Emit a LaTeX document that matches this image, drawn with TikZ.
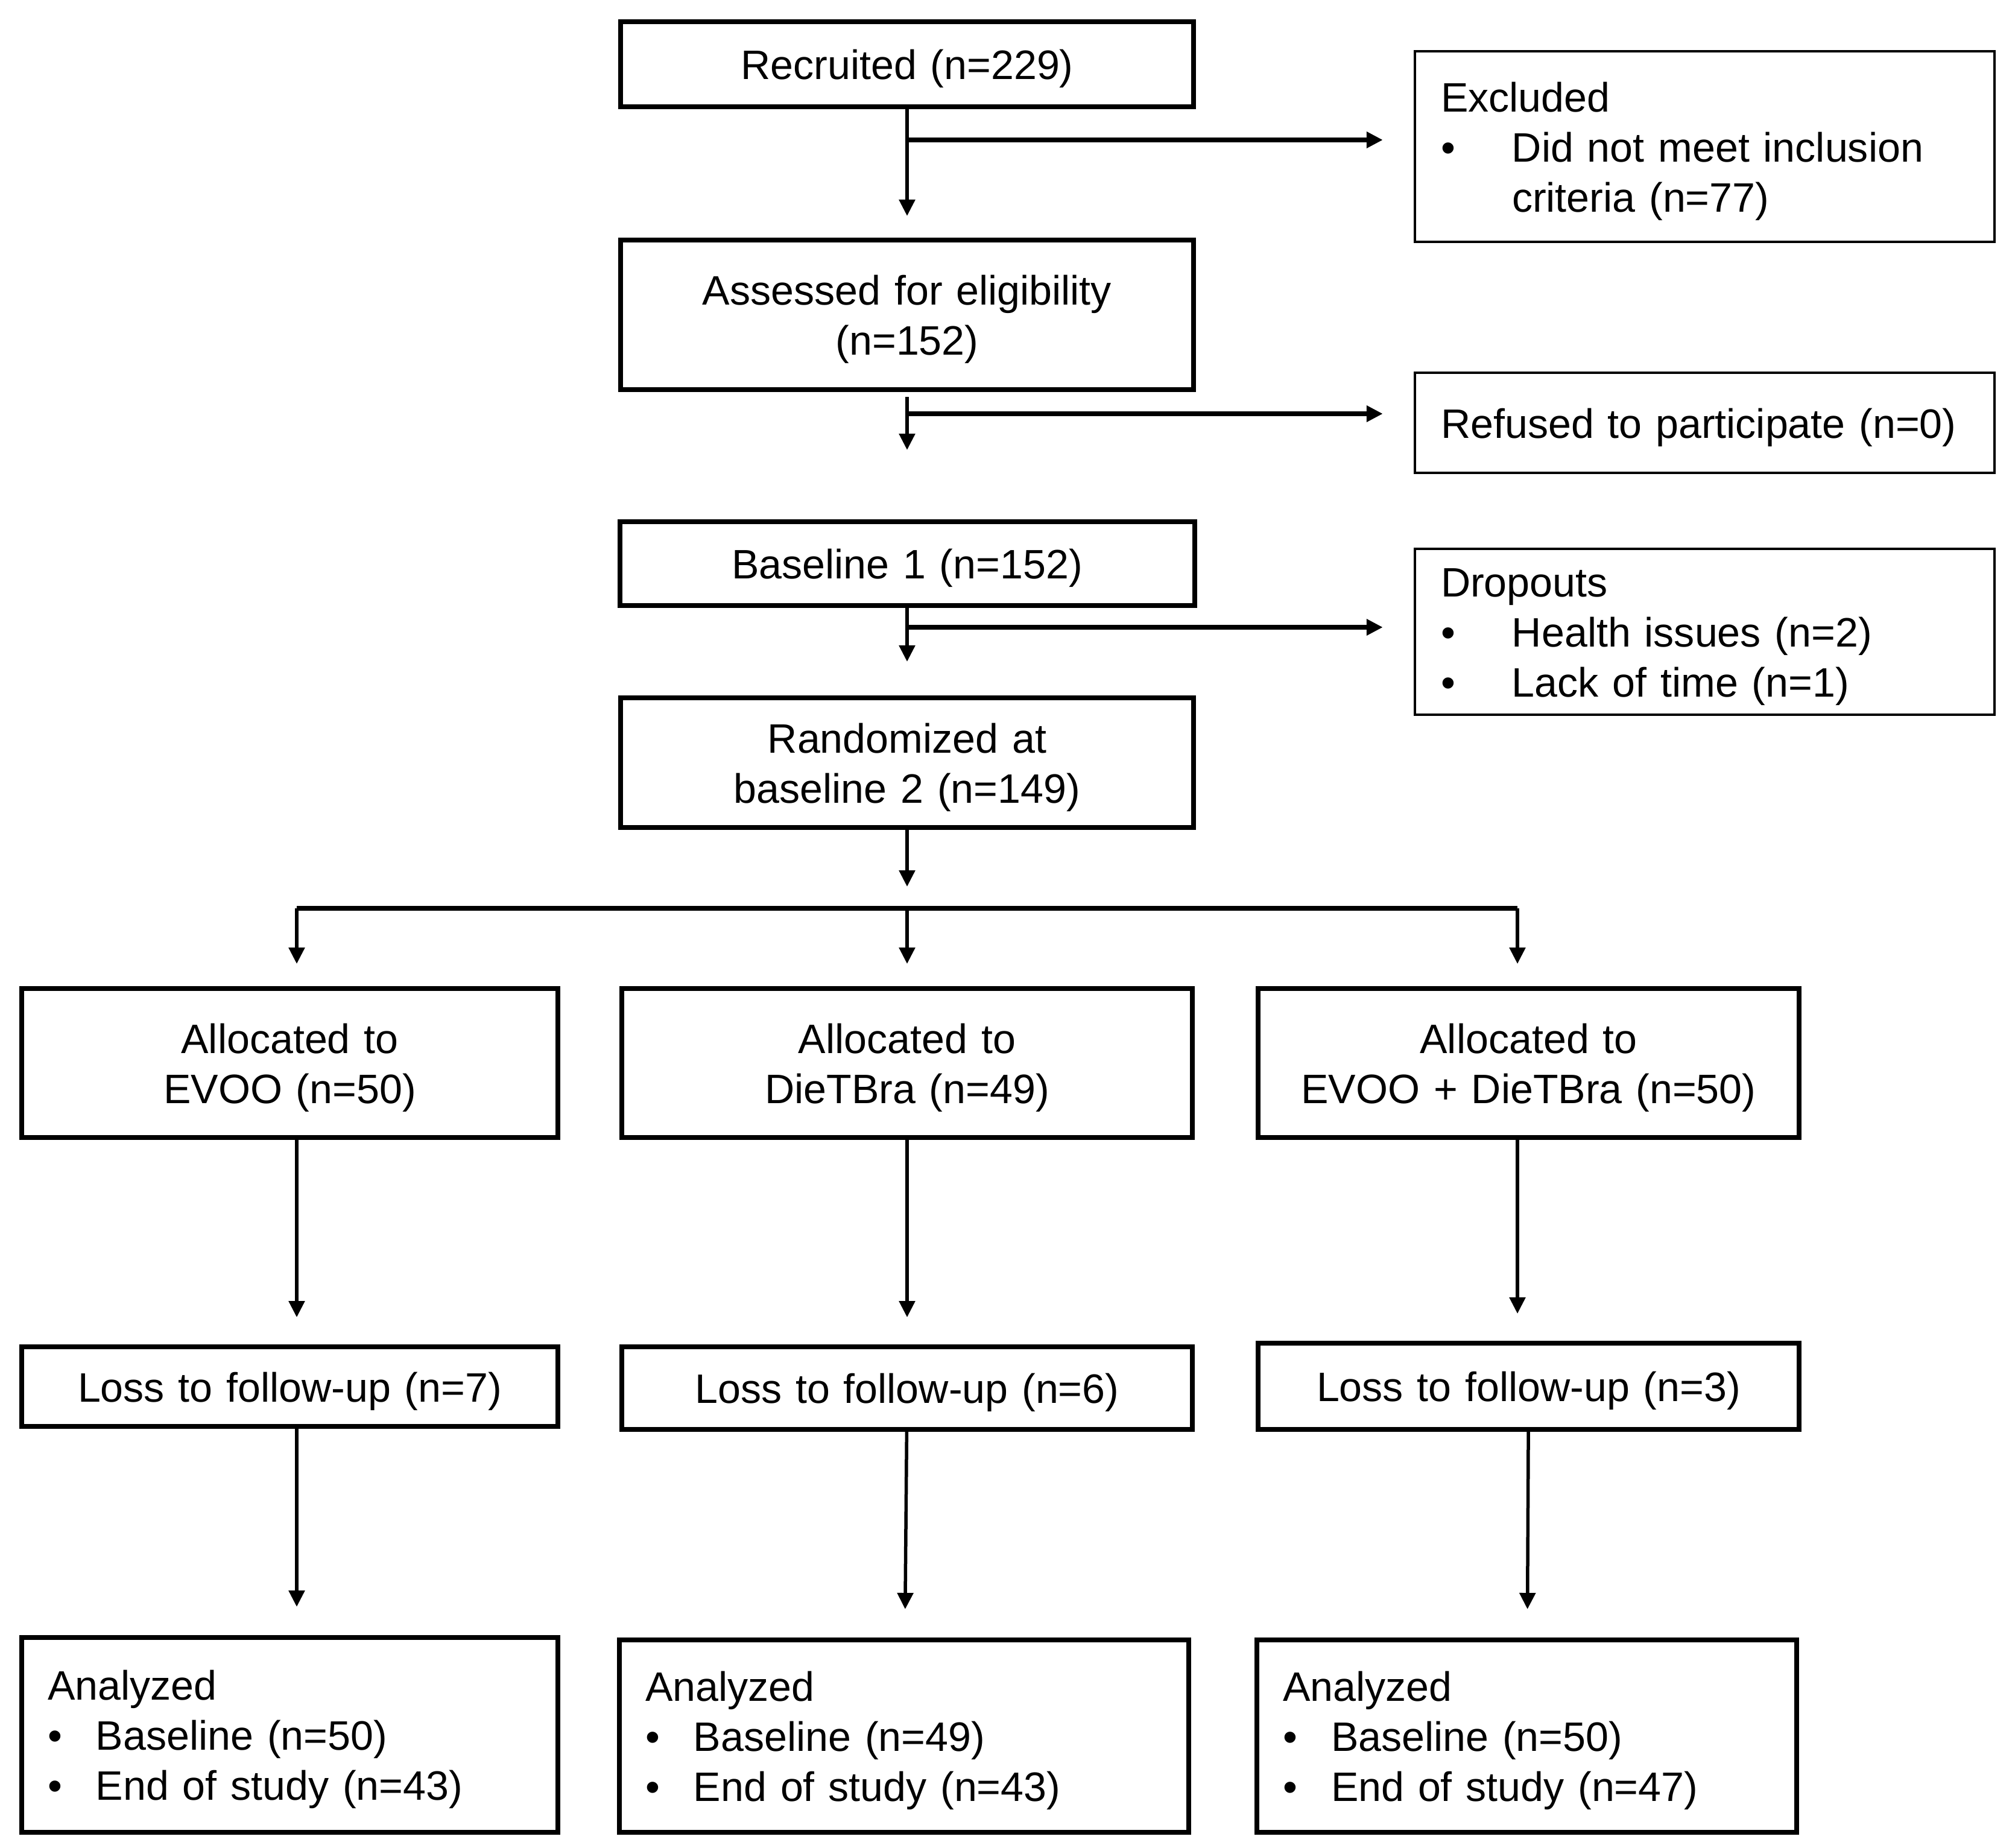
\documentclass[tikz,border=0pt]{standalone}
\usepackage{fontspec}
\setmainfont{Liberation Sans}
\usetikzlibrary{arrows.meta}

\begin{document}
\begin{tikzpicture}[>={Triangle[length=0.27cm,width=0.26cm]},
                    font=\fontsize{19.4pt}{23.6pt}\selectfont]
\useasboundingbox (0,0) rectangle (33.41,-30.63);

\begin{scope}[every node/.style={rectangle,draw=black,line width=0.08cm,inner sep=0pt,
                                 text width=8cm,align=center,
                                 execute at begin node={\rule{0pt}{0.648cm}}}]
  \node[minimum width=9.5cm,minimum height=1.41cm] (R) at (15.04,-1.065) {Recruited (n=229)};
  \node[minimum width=9.5cm,minimum height=2.48cm] (A) at (15.04,-5.22) {Assessed for eligibility\\(n=152)};
  \node[minimum width=9.53cm,minimum height=1.39cm] (B) at (15.04,-9.345) {Baseline 1 (n=152)};
  \node[minimum width=9.5cm,minimum height=2.15cm] (Rand) at (15.04,-12.645) {Randomized at\\baseline 2 (n=149)};

  \node[minimum width=8.89cm,minimum height=2.47cm] (a1) at (4.805,-17.625) {Allocated to\\EVOO (n=50)};
  \node[minimum width=9.46cm,minimum height=2.47cm] (a2) at (15.04,-17.625) {Allocated to\\DieTBra (n=49)};
  \node[minimum width=8.97cm,minimum height=2.47cm] (a3) at (25.345,-17.625) {Allocated to\\EVOO + DieTBra (n=50)};

  \node[minimum width=8.89cm,minimum height=1.32cm] (l1) at (4.805,-22.99) {Loss to follow-up (n=7)};
  \node[minimum width=9.46cm,minimum height=1.37cm] (l2) at (15.04,-23.015) {Loss to follow-up (n=6)};
  \node[minimum width=8.97cm,minimum height=1.43cm] (l3) at (25.345,-22.985) {Loss to follow-up (n=3)};

  \node[minimum width=8.89cm,minimum height=3.23cm,text width=8.03cm,align=left] (n1) at (4.805,-28.765)
    {Analyzed\\\makebox[0.8cm][l]{\textbullet}Baseline (n=50)\\\makebox[0.8cm][l]{\textbullet}End of study (n=43)};
  \node[minimum width=9.44cm,minimum height=3.19cm,text width=8.58cm,align=left] (n2) at (14.99,-28.785)
    {Analyzed\\\makebox[0.8cm][l]{\textbullet}Baseline (n=49)\\\makebox[0.8cm][l]{\textbullet}End of study (n=43)};
  \node[minimum width=8.95cm,minimum height=3.19cm,text width=8.09cm,align=left] (n3) at (25.315,-28.785)
    {Analyzed\\\makebox[0.8cm][l]{\textbullet}Baseline (n=50)\\\makebox[0.8cm][l]{\textbullet}End of study (n=47)};
\end{scope}

\begin{scope}[every node/.style={rectangle,draw=black,line width=0.045cm,inner sep=0pt,
                                 minimum width=9.61cm,text width=8.75cm,align=left,
                                 execute at begin node={\rule{0pt}{0.648cm}}}]
  \node[minimum height=3.16cm] (excl) at (28.265,-2.43)
    {Excluded\\\makebox[1.18cm][l]{\textbullet}Did not meet inclusion\\\hspace*{1.18cm}criteria (n=77)};
  \node[minimum height=1.66cm] (ref) at (28.265,-7.01) {Refused to participate (n=0)};
  \node[minimum height=2.75cm] (drop) at (28.265,-10.475)
    {Dropouts\\\makebox[1.18cm][l]{\textbullet}Health issues (n=2)\\\makebox[1.18cm][l]{\textbullet}Lack of time (n=1)};
\end{scope}

\coordinate (s1) at (15.04,-2.32);
\coordinate (s2) at (15.04,-6.86);
\coordinate (s3) at (15.04,-10.40);
\coordinate (bl) at (4.92,-15.06);
\coordinate (bm) at (15.04,-15.06);
\coordinate (br) at (25.16,-15.06);

\begin{scope}[every edge/.style={draw=black,line width=0.055cm}]
  \path[->] (R) edge[shorten >=0.36cm] (A);
  \path[->] (A) edge[shorten <=0.08cm,shorten >=1.15cm] (B);
  \path[->] (B) edge[shorten >=0.56cm] (Rand);
  \path[->] (Rand) edge[shorten >=0.36cm] (bm);
  \path[->] (bl) edge[shorten >=0.37cm] (bl |- a1.north);
  \path[->] (bm) edge[shorten >=0.37cm] (bm |- a2.north);
  \path[->] (br) edge[shorten >=0.37cm] (br |- a3.north);
  \path[->] (a1.south -| bl) edge[shorten >=0.45cm] (l1.north -| bl);
  \path[->] (a2) edge[shorten >=0.45cm] (l2);
  \path[->] (a3.south -| br) edge[shorten >=0.45cm] (l3.north -| br);
  \path[->] (l1.south -| bl) edge[shorten >=0.47cm] (n1.north -| bl);
  \path[->] (l2) edge[shorten >=0.47cm] (n2);
  \path[->] (l3) edge[shorten >=0.47cm] (n3);
\end{scope}

\begin{scope}[every edge/.style={draw=black,line width=0.08cm}]
  \path[->] (s1) edge[shorten >=0.51cm] (s1 -| excl.west);
  \path[->] (s2) edge[shorten >=0.51cm] (s2 -| ref.west);
  \path[->] (s3) edge[shorten >=0.51cm] (s3 -| drop.west);
  \path (bl) edge (br);
\end{scope}

\end{tikzpicture}
\end{document}
